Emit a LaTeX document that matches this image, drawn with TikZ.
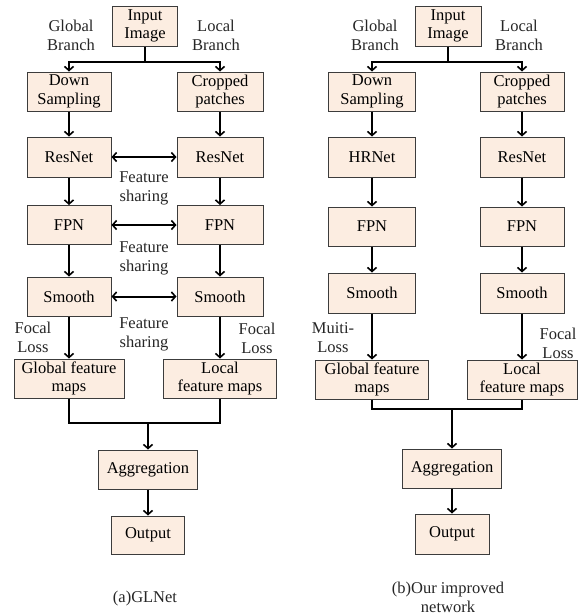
\documentclass[tikz,border=0pt]{standalone}
\usepackage{fontspec}
\setmainfont{Liberation Serif}
\usetikzlibrary{arrows.meta}
\definecolor{boxfill}{RGB}{252,237,225}
\definecolor{boxline}{RGB}{60,60,60}
\tikzset{
  blk/.style={draw=boxline, line width=1pt, fill=boxfill, inner sep=0pt, align=center,
    font=\fontsize{16.5}{18.5}\selectfont},
  lbl/.style={align=center, inner sep=0pt, font=\fontsize{16.5}{19}\selectfont, text=black!85},
  conn/.style={line width=2pt, black},
  arr/.style={conn, -{Straight Barb[length=4pt,width=9pt,line width=1.6pt]}},
  darr/.style={conn, {Straight Barb[length=4pt,width=9pt,line width=1.6pt]}-{Straight Barb[length=4pt,width=9pt,line width=1.6pt]}}
}
\begin{document}
\begin{tikzpicture}[x=1pt,y=-1pt]
\useasboundingbox (0,0) rectangle (579,616);
\fill[white] (0,0) rectangle (579,616);
% ---------- Left panel ----------
\node[blk, minimum width=65pt, minimum height=40pt] (in1) at (145,26) {Input\\Image};
\node[blk, minimum width=84pt, minimum height=39pt] (ds1) at (69,91.5) {Down\\Sampling};
\node[blk, minimum width=86pt, minimum height=39pt] (cp1) at (220,91.5) {Cropped\\patches};
\node[blk, minimum width=84pt, minimum height=40pt] (rn1a) at (69,157) {ResNet};
\node[blk, minimum width=86pt, minimum height=40pt] (rn1b) at (220,157) {ResNet};
\node[blk, minimum width=84pt, minimum height=39pt] (fp1a) at (69,225) {FPN};
\node[blk, minimum width=86pt, minimum height=39pt] (fp1b) at (220,225) {FPN};
\node[blk, minimum width=84pt, minimum height=39pt] (sm1a) at (69,296.5) {Smooth};
\node[blk, minimum width=86pt, minimum height=39pt] (sm1b) at (220,296.5) {Smooth};
\node[blk, minimum width=110pt, minimum height=39pt] (gf1) at (69,378.5) {Global feature\\maps};
\node[blk, minimum width=113pt, minimum height=39pt] (lf1) at (220,378.5) {Local\\feature maps};
\node[blk, minimum width=99pt, minimum height=39pt] (ag1) at (148,469.5) {Aggregation};
\node[blk, minimum width=73pt, minimum height=38pt] (ou1) at (148,535) {Output};

\node[lbl] (gb1) at (71,35.5) {Global\\Branch};
\node[lbl] (lb1) at (216,35.5) {Local\\Branch};
\node[lbl] (fs1) at (144,188.5) {Feature\\sharing};
\node[lbl] (fs2) at (144,258) {Feature\\sharing};
\node[lbl] (fs3) at (144,334) {Feature\\sharing};
\node[lbl] (fl1) at (33,337) {Focal\\Loss};
\node[lbl] (fl2) at (257,338) {Focal\\Loss};
\node[lbl] (cap1) at (145,599) {(a)GLNet};

\coordinate (s1) at (145,62);
\coordinate (m1) at (148,423);
\draw[arr] (in1.south) -- (s1) -| (ds1.north);
\draw[arr] (s1) -| (cp1.north);
\draw[arr] (ds1) -- (rn1a);
\draw[arr] (cp1) -- (rn1b);
\draw[arr] (rn1a) -- (fp1a);
\draw[arr] (rn1b) -- (fp1b);
\draw[arr] (fp1a) -- (sm1a);
\draw[arr] (fp1b) -- (sm1b);
\draw[arr] (sm1a) -- (gf1);
\draw[arr] (sm1b) -- (lf1.north -| sm1b);
\draw[darr] (rn1a) -- (rn1b);
\draw[darr] (fp1a) -- (fp1b);
\draw[darr] (sm1a) -- (sm1b);
\draw[conn] (gf1.south) |- (m1) -| (lf1.south -| sm1b);
\draw[arr] (m1) -- (ag1);
\draw[arr] (ag1) -- (ou1);

% ---------- Right panel ----------
\node[blk, minimum width=66pt, minimum height=40pt] (in2) at (448,26) {Input\\Image};
\node[blk, minimum width=87pt, minimum height=39pt] (ds2) at (372,91.5) {Down\\Sampling};
\node[blk, minimum width=84pt, minimum height=39pt] (cp2) at (522,91.5) {Cropped\\patches};
\node[blk, minimum width=87pt, minimum height=40pt] (hr2) at (372,157) {HRNet};
\node[blk, minimum width=84pt, minimum height=40pt] (rn2) at (522,157) {ResNet};
\node[blk, minimum width=87pt, minimum height=39pt] (fp2a) at (372,226.5) {FPN};
\node[blk, minimum width=84pt, minimum height=39pt] (fp2b) at (522,226.5) {FPN};
\node[blk, minimum width=87pt, minimum height=40pt] (sm2a) at (372,293) {Smooth};
\node[blk, minimum width=84pt, minimum height=40pt] (sm2b) at (522,293) {Smooth};
\node[blk, minimum width=113pt, minimum height=39pt] (gf2) at (372,379.5) {Global feature\\maps};
\node[blk, minimum width=110pt, minimum height=39pt] (lf2) at (522,379.5) {Local\\feature maps};
\node[blk, minimum width=99pt, minimum height=39pt] (ag2) at (452,468.5) {Aggregation};
\node[blk, minimum width=74pt, minimum height=40pt] (ou2) at (452,534) {Output};

\node[lbl] (gb2) at (375,35.5) {Global\\Branch};
\node[lbl] (lb2) at (519,35.5) {Local\\Branch};
\node[lbl] (ml2) at (333,337.5) {Muiti-\\Loss};
\node[lbl] (fl3) at (558,343) {Focal\\Loss};
\node[lbl, font=\fontsize{16.5}{18.5}\selectfont] (cap2) at (448,597.5) {(b)Our improved\\network};

\coordinate (s2) at (448,62);
\coordinate (m2) at (452,409);
\draw[arr] (in2.south) -- (s2) -| (ds2.north);
\draw[arr] (s2) -| (cp2.north);
\draw[arr] (ds2) -- (hr2);
\draw[arr] (cp2) -- (rn2);
\draw[arr] (hr2) -- (fp2a);
\draw[arr] (rn2) -- (fp2b);
\draw[arr] (fp2a) -- (sm2a);
\draw[arr] (fp2b) -- (sm2b);
\draw[arr] (sm2a) -- (gf2);
\draw[arr] (sm2b) -- (lf2);
\draw[conn] (gf2.south) |- (m2) -| (lf2.south);
\draw[arr] (m2) -- (ag2);
\draw[arr] (ag2) -- (ou2);
\end{tikzpicture}
\end{document}
